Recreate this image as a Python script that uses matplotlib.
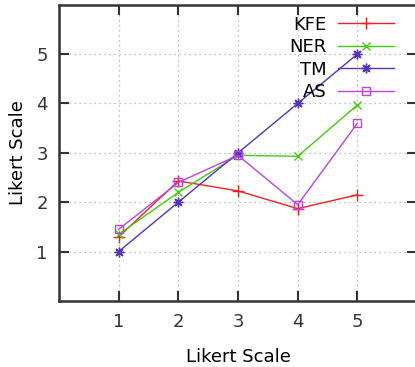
import matplotlib
matplotlib.use('Agg')
import matplotlib.pyplot as plt

levels = [1, 2, 3, 4, 5]
kfe = [1.30, 2.43, 2.23, 1.87, 2.15]
ner = [1.35, 2.20, 2.95, 2.93, 3.97]
tm = [1.00, 2.00, 3.00, 4.00, 5.00]
as_ = [1.45, 2.40, 2.95, 1.95, 3.60]

names = ['KFE', 'NER', 'TM', 'AS']
colors = ['#ee2222', '#44cc11', '#5533bb', '#bb44dd']
markers = ['+', 'x', (8, 2, 0), 's']
msizes = [8, 6, 7, 6]

plt.rcParams['font.family'] = 'DejaVu Sans'
fig = plt.figure(figsize=(4.15, 3.67), dpi=100)
ax = fig.add_axes([0.142, 0.18, 0.863, 0.807])

for vals, name, c, m, ms in zip([kfe, ner, tm, as_], names, colors, markers, msizes):
    ax.plot(levels, vals, color=c, lw=1.0, marker=m, markersize=ms,
            markerfacecolor='none', markeredgecolor=c,
            markeredgewidth=1.0, label=name)

ax.set_xlim(0, 6)
ax.set_ylim(0, 6)
ax.set_xticks(levels)
ax.set_yticks([1, 2, 3, 4, 5])
ax.tick_params(direction='in', length=7, width=1.5, top=True, right=True,
               labelsize=13, colors='#333333', pad=8)
ax.tick_params(axis='x', pad=9)
for s in ax.spines.values():
    s.set_linewidth(1.8)
    s.set_color('#333333')
ax.grid(True, linestyle=(0, (1, 3)), color='#aaaaaa', lw=0.9)

ax.set_xlabel('Likert Scale', fontsize=13, labelpad=12)
ax.set_ylabel('Likert Scale', fontsize=13, labelpad=7)

ax.legend(loc='upper right', bbox_to_anchor=(0.965, 1.0), markerfirst=False,
          frameon=False, fontsize=13, handlelength=3.1, labelspacing=0.25,
          handletextpad=0.6, borderaxespad=0.2, numpoints=1)

plt.savefig('out.png', dpi=100)
